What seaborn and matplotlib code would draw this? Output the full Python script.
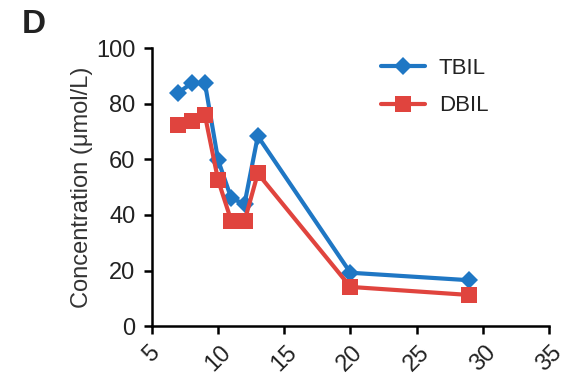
import numpy as np
import pandas as pd
import seaborn as sns
import matplotlib.pyplot as plt

# values
days = [7, 8, 9, 10, 11, 12, 13, 20, 29]
tbil = [84, 87.3, 87.5, 59.7, 45.9, 44, 68.3, 19.2, 16.5]
dbil = [72.3, 73.7, 75.9, 52.5, 37.8, 37.8, 54.9, 14.1, 11.2]
series_names = ["TBIL", "DBIL"]
colors = {"TBIL": "#1f77c4", "DBIL": "#e0443e"}
markers = {"TBIL": "D", "DBIL": "s"}
x_ticks = [5, 10, 15, 20, 25, 30, 35]
y_ticks = [0, 20, 40, 60, 80, 100]

df = pd.DataFrame({
    "day": days * 2,
    "value": tbil + dbil,
    "series": ["TBIL"] * len(days) + ["DBIL"] * len(days),
})

sns.set_style("ticks")
plt.rcParams['font.family'] = ['Liberation Sans', 'DejaVu Sans']

fig = plt.figure(figsize=(5.67, 3.81), dpi=100)
ax = fig.add_axes([0.268, 0.144, 0.7, 0.73])

sns.lineplot(
    data=df, x="day", y="value", hue="series", style="series",
    hue_order=series_names, style_order=series_names,
    palette=colors, markers=markers, dashes=False,
    linewidth=3, markeredgewidth=0, ax=ax,
)
# marker sizes differ per series
for line in ax.lines:
    if line.get_marker() == "s":
        line.set_markersize(11)
    else:
        line.set_markersize(9)

ax.set_xlim(5, 35)
ax.set_ylim(0, 100)
ax.set_xticks(x_ticks)
ax.set_yticks(y_ticks)
ax.set_xticklabels([str(t) for t in x_ticks], rotation=45, ha="center", va="top")
ax.tick_params(axis="both", labelsize=17, width=1.8, length=6, color="black", labelcolor="#222222")
ax.tick_params(axis="y", pad=6)
ax.tick_params(axis="x", pad=5)
for s in ["left", "bottom"]:
    ax.spines[s].set_linewidth(1.8)
    ax.spines[s].set_color("black")
sns.despine(ax=ax)

ax.set_xlabel("")
ax.set_ylabel("Concentration (μmol/L)", fontsize=17, color="#333333", labelpad=2)

leg = ax.legend(
    loc="upper left", bbox_to_anchor=(0.577, 0.965), frameon=False,
    borderaxespad=0, borderpad=0,
    fontsize=16, handlelength=2.0, labelspacing=0.75, handletextpad=0.6,
)
for h in leg.legend_handles:
    h.set_linewidth(3)
for t in leg.get_texts():
    t.set_color("#222222")

fig.text(0.039, 0.913, "D", fontsize=24, fontweight="bold", color="#222222")

fig.savefig("out.png", dpi=100)
